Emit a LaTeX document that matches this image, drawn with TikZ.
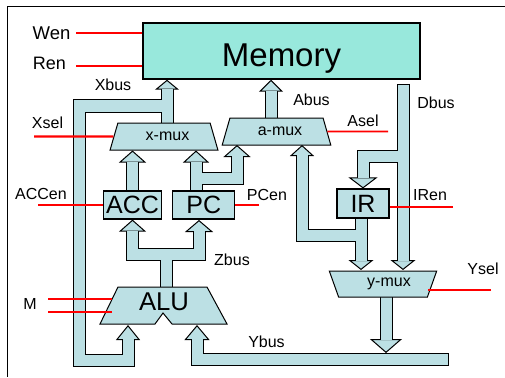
\documentclass[tikz,border=0pt]{standalone}
\usepackage{fontspec}
\setmainfont{Liberation Sans}
\usetikzlibrary{positioning, arrows.meta, shapes.geometric, backgrounds}

\definecolor{memfill}{HTML}{98E8DC}
\definecolor{busblue}{HTML}{BCE0E4}

\begin{document}
\begin{tikzpicture}[
    x=1pt,
    y=-1pt,
    node distance=10pt,
    membox/.style={
        draw,
        line width=1.5pt,
        fill=memfill,
        inner sep=0pt,
        text depth=0pt,
        text height=32pt,
        minimum width=277pt,
        minimum height=56pt,
        font=\fontsize{33}{35}\selectfont
    },
    regbox/.style={
        draw,
        line width=1.2pt,
        fill=busblue,
        inner sep=0pt,
        minimum height=28pt,
        font=\fontsize{25}{27}\selectfont
    },
    mux/.style={
        draw,
        line width=1pt,
        fill=busblue,
        trapezium,
        trapezium stretches=true,
        trapezium left angle=64,
        trapezium right angle=64,
        inner sep=0pt,
        minimum width=108pt,
        minimum height=27pt,
        font=\fontsize{16}{18}\selectfont
    },
    lab/.style={
        inner sep=0pt,
        font=\fontsize{16}{18}\selectfont
    },
    ctrl/.style={
        draw=red,
        line width=2.2pt
    },
    ctrlthin/.style={
        draw=red,
        line width=1.6pt
    },
    busline/.style 2 args={
        draw=black,
        line width=13pt,
        shorten <=-1pt,
        -{Triangle[length=#1pt,width=#2pt,fill=busblue,line width=1pt]}
    },
    busfill/.style 2 args={
        draw=busblue,
        line width=11pt,
        shorten >=#1pt-1pt
    }
]

\useasboundingbox (0,0) rectangle (505,377);

% units
\node[membox] (memory) at (281.5,51) {Memory};
\node[mux] (xmux) at (164,136.5) {\hspace{7pt}x-mux};
\node[mux, minimum width=109pt] (amux) at (276.5,131.5) {\hspace{7pt}a-mux};
\node[mux, shape border rotate=180, minimum width=108pt, minimum height=26pt] (ymux) at (383,284) {\hspace{12pt}y-mux};
\node[regbox, minimum width=58pt] (acc) at (132.5,205) {ACC};
\node[regbox, minimum width=62pt, right=10pt of acc] (pc) {PC};
\node[regbox, minimum width=52pt, minimum height=29pt] (ir) at (363,203.5) {IR};

% ALU outline
\draw[fill=busblue, line width=1pt] (118,287) -- (207,287) -- (227,324) -- (172,324)
    -- (163,313) -- (155,324) -- (100,324) -- cycle;
\node[inner sep=0pt, font=\fontsize{25.7}{27}\selectfont] (alu) at (164,302) {ALU};

% bus points
\coordinate (xbusout) at (167,123);
\coordinate (xbranch) at (167,106);
\coordinate (xturn) at (79,360);
\coordinate (aluxin) at (128,325);
\coordinate (aluyin) at (197,325);
\coordinate (alutop) at (166,287);
\coordinate (zjoin) at (166,254);
\coordinate (pcin) at (199,220);
\coordinate (pcout) at (196,191);
\coordinate (pcbranch) at (196,178);
\coordinate (amuxpin) at (237,145);
\coordinate (amuxout) at (271,118);
\coordinate (amuxiin) at (302,145);
\coordinate (irout) at (361,218);
\coordinate (irbranch) at (361,235);
\coordinate (ymuxiin) at (361,270);
\coordinate (dbustop) at (403,85);
\coordinate (dbranch) at (403,156);
\coordinate (ymuxdin) at (403,270);
\coordinate (ymuxout) at (386,297);
\coordinate (ybustop) at (386,353);
\coordinate (ybusend) at (448,359);

\begin{scope}[on background layer]
\draw[line width=1pt] (505,7) -- (7,7) -- (7,377);
\foreach \pass in {busline, busfill} {
    \draw[\pass={10}{24}] (xbusout) -- (xbusout |- memory.south);
    \draw[\pass={15}{24}] (xbranch) -| (xturn) -| (aluxin);
    \draw[\pass={12}{24}] (amuxout) -- (amuxout |- memory.south);
    \draw[\pass={12}{27}] (acc.north) -- (acc.north |- xmux.south);
    \draw[\pass={12}{26}] (pcout) -- (pcout |- xmux.south);
    \draw[\pass={12}{27}] (pcbranch) -| (amuxpin);
    \draw[\pass={12}{27}] (alutop) -- (zjoin) -| (acc.south);
    \draw[\pass={12}{28}] (zjoin) -| (pcin);
    \draw[\pass={11}{24}] (irbranch) -| (amuxiin);
    \draw[\pass={10}{25}] (irout) -- (ymuxiin);
    \draw[\pass={11}{29}] (dbranch) -| (ir.north);
    \draw[\pass={10}{25}] (dbustop) -- (ymuxdin);
    \draw[\pass={14}{32}] (ymuxout) -- (ybustop);
    \draw[\pass={15}{25}] (ybusend) -| (aluyin);
}
\end{scope}

% control lines
\coordinate (wenend) at (76,33);
\coordinate (renend) at (76,66);
\coordinate (xselend) at (34,136.5);
\coordinate (aselend) at (388,131.5);
\coordinate (accenend) at (38,205);
\coordinate (pcenend) at (259,205);
\coordinate (irenend) at (453,207);
\coordinate (yselend) at (491,290);
\coordinate (ymuxsel) at (428,290);
\coordinate (mtopend) at (48,299);
\coordinate (mlowend) at (48,312);
\coordinate (alumtop) at (112,299);
\coordinate (alumlow) at (112,312);

\draw[ctrl] (wenend) -- (wenend -| memory.west);
\draw[ctrl] (renend) -- (renend -| memory.west);
\draw[ctrl] (xselend) -- (xmux.west);
\draw[ctrlthin] (aselend) -- (amux.east);
\draw[ctrl] (accenend) -- (accenend -| acc.west);
\draw[ctrl] (pcenend) -- (pcenend -| pc.east);
\draw[ctrlthin] (irenend) -- (irenend -| ir.east);
\draw[ctrl] (yselend) -- (ymuxsel);
\draw[ctrlthin] (mtopend) -- (alumtop);
\draw[ctrlthin] (mlowend) -- (alumlow);

% labels
\node[lab, font=\fontsize{18.5}{20}\selectfont] (wen) at (51.5,33) {Wen};
\node[lab, font=\fontsize{18}{20}\selectfont] (ren) at (49.5,63) {Ren};
\node[lab] (xbus) at (113,85) {Xbus};
\node[lab] (xsel) at (47.5,123) {Xsel};
\node[lab] (abus) at (311.5,100) {Abus};
\node[lab] (dbus) at (436,103) {Dbus};
\node[lab] (asel) at (363,121) {Asel};
\node[lab] (accen) at (41,194) {ACCen};
\node[lab] (pcen) at (267,195) {PCen};
\node[lab] (iren) at (430,195) {IRen};
\node[lab] (ysel) at (483,269) {Ysel};
\node[lab] (zbus) at (232,260) {Zbus};
\node[lab] (ybus) at (266.5,342) {Ybus};
\node[lab] (mlab) at (30,304) {M};

\end{tikzpicture}
\end{document}
